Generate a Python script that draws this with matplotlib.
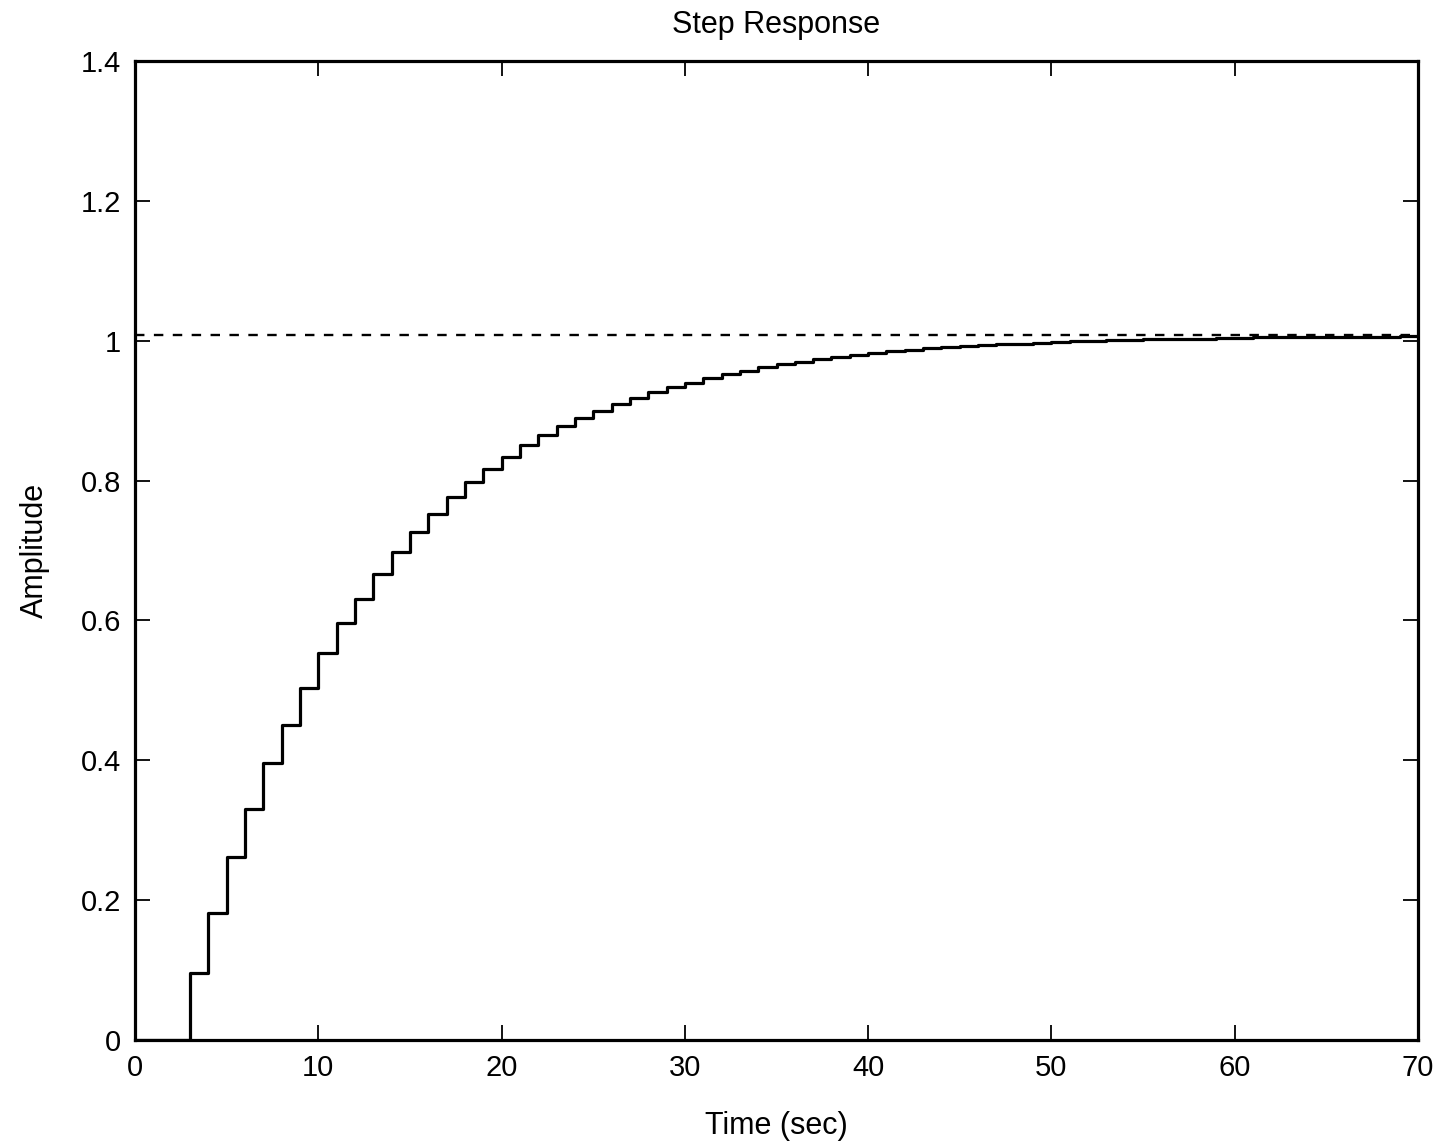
import matplotlib
matplotlib.use("Agg")
import matplotlib.pyplot as plt
from matplotlib import font_manager

# Discrete step response sampled every 1 s
time_s = list(range(0, 71))
amplitude = [
    0.000, 0.000, 0.000, 0.096, 0.182, 0.261, 0.330, 0.396, 0.451, 0.503,
    0.553, 0.596, 0.630, 0.666, 0.698, 0.726, 0.752, 0.777, 0.798, 0.817,
    0.834, 0.851, 0.865, 0.878, 0.890, 0.900, 0.909, 0.918, 0.926, 0.934,
    0.940, 0.946, 0.952, 0.957, 0.962, 0.966, 0.970, 0.974, 0.977, 0.980,
    0.982, 0.985, 0.987, 0.989, 0.991, 0.992, 0.994, 0.995, 0.996, 0.997,
    0.998, 0.999, 1.000, 1.001, 1.001, 1.002, 1.002, 1.003, 1.003, 1.004,
    1.004, 1.005, 1.005, 1.005, 1.006, 1.006, 1.006, 1.006, 1.006, 1.007,
    1.007,
]
steady_state = 1.008

x_ticks = [0, 10, 20, 30, 40, 50, 60, 70]
y_ticks = [0, 0.2, 0.4, 0.6, 0.8, 1.0, 1.2, 1.4]
y_tick_labels = ["0", "0.2", "0.4", "0.6", "0.8", "1", "1.2", "1.4"]

available = {f.name for f in font_manager.fontManager.ttflist}
family = ["Liberation Sans Narrow"] if "Liberation Sans Narrow" in available else ["Liberation Sans"]
plt.rcParams["font.family"] = family + ["DejaVu Sans"]

fig = plt.figure(figsize=(14.4, 11.44), dpi=100)
ax = fig.add_axes([135 / 1440, 1 - 1040 / 1144, (1418 - 135) / 1440, (1040 - 61) / 1144])

ax.step(time_s, amplitude, where="post", color="black", linewidth=2.3)
ax.axhline(steady_state, color="black", linewidth=1.7, linestyle=(0, (4.0, 4.0)))

ax.set_xlim(0, 70)
ax.set_ylim(0, 1.4)
ax.set_xticks(x_ticks)
ax.set_xticklabels([str(t) for t in x_ticks])
ax.set_yticks(y_ticks)
ax.set_yticklabels(y_tick_labels)

ax.tick_params(direction="in", length=11, width=1.3, top=True, right=True,
               labelsize=21, pad=10, colors="black")
for spine in ax.spines.values():
    spine.set_linewidth(2.3)

ax.set_title("Step Response", fontsize=22, pad=20)
ax.set_xlabel("Time (sec)", fontsize=22, labelpad=21)
ax.set_ylabel("Amplitude", fontsize=22, labelpad=22)

fig.savefig("out.png", dpi=100, facecolor="white")
